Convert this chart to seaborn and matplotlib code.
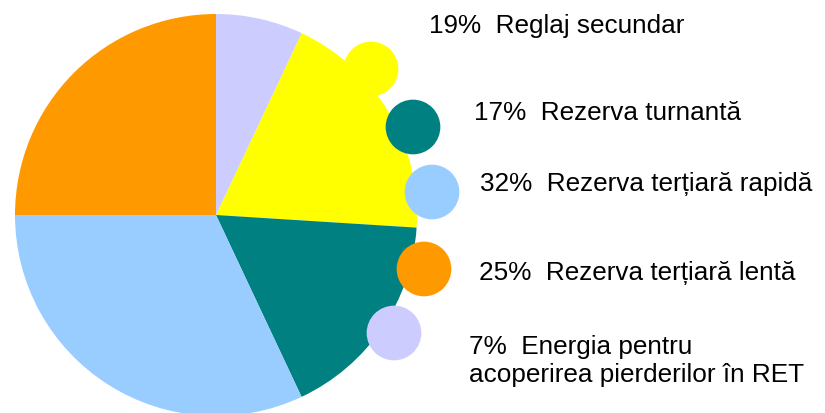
import matplotlib
matplotlib.use("Agg")
import matplotlib.pyplot as plt
import seaborn as sns

# Shares (legend order)
categories = ["Reglaj secundar", "Rezerva turnantă", "Rezerva terțiară rapidă",
              "Rezerva terțiară lentă", "Energia pentru\nacoperirea pierderilor în RET"]
shares = [19, 17, 32, 25, 7]
colors = ["#FFFF00", "#008080", "#99CCFF", "#FF9900", "#CCCCFF"]

# legend marker centres and text anchors (pixels, y downwards)
marker_pos = [(371, 70), (413, 128), (432, 193), (424, 270), (394, 334)]
text_pos = [(429, 26), (474, 113), (480, 184), (479, 273), (469, 361)]

sns.set_theme(style="white")
plt.rcParams["font.family"] = ["Liberation Sans", "DejaVu Sans"]

W, H = 825, 414
fig = plt.figure(figsize=(W / 100, H / 100), dpi=100)
ax = fig.add_axes([0, 0, 1, 1])

# pie is centred at (216, 216) px with radius 201, and cut off at the bottom
start = 90 - shares[-1] * 3.6
ax.pie(shares, colors=colors, startangle=start, counterclock=False,
       center=(216, H - 216), radius=201, frame=True,
       wedgeprops=dict(linewidth=0, antialiased=True))

mx = [p[0] for p in marker_pos]
my = [H - p[1] for p in marker_pos]
sns.scatterplot(x=mx, y=my, hue=categories, palette=colors, s=1550,
                linewidth=0, legend=False, ax=ax, zorder=3)

for (tx, ty), pct, name in zip(text_pos, shares, categories):
    ax.text(tx, H - ty, f"{pct}%  {name}", fontsize=18.8, color="black",
            ha="left", va="center", linespacing=1.17)

ax.set_xlim(0, W)
ax.set_ylim(0, H)
ax.set_aspect("equal")
ax.axis("off")

fig.savefig("out.png", dpi=100, facecolor="white")
